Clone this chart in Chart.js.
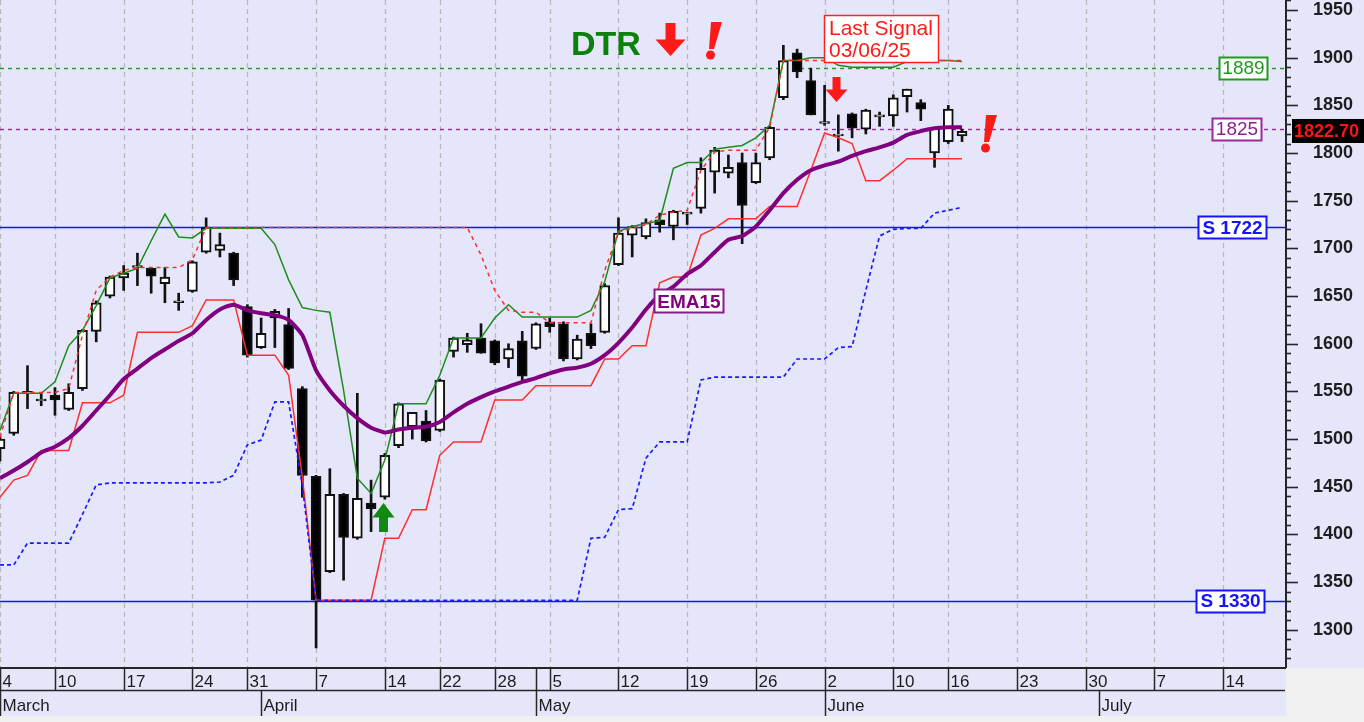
<!DOCTYPE html>
<html>
<head>
<meta charset="utf-8">
<title>DTR</title>
<script src="https://cdn.jsdelivr.net/npm/chart.js@4.4.1/dist/chart.umd.min.js"></script>
<style>
    html, body { margin: 0; padding: 0; background: #f0f0f0; }
    canvas { display: block; }
</style>
</head>
<body>
<canvas id="grafico" width="1364" height="722"></canvas>
<script>
// Daily sessions, 4 March -> 17 June (index 0 = 4 March)
const opens  = [1490, 1506, 1548, 1540, 1546, 1531, 1553, 1613, 1650, 1669, 1680, 1679, 1663, 1643, 1655, 1696, 1698, 1695, 1639, 1596,
                1627, 1620, 1553, 1461, 1361, 1442, 1396, 1433, 1439, 1493, 1513, 1519, 1509, 1592, 1599, 1606, 1603, 1584, 1603, 1595,
                1623, 1621, 1584, 1611, 1612, 1683, 1714, 1712, 1730, 1723, 1736, 1742, 1780, 1779, 1790, 1769, 1795, 1858, 1905, 1876,
                1831, 1818, 1841, 1825, 1838, 1839, 1859, 1853, 1800, 1812, 1818];
const highs  = [1503, 1550, 1577, 1548, 1554, 1558, 1615, 1645, 1671, 1682, 1695, 1680, 1680, 1653, 1687, 1732, 1716, 1696, 1641, 1627,
                1636, 1637, 1555, 1462, 1469, 1443, 1548, 1457, 1485, 1538, 1528, 1530, 1563, 1607, 1611, 1621, 1604, 1600, 1613, 1622,
                1627, 1623, 1609, 1621, 1663, 1732, 1724, 1731, 1737, 1740, 1738, 1795, 1806, 1798, 1800, 1800, 1828, 1913, 1909, 1889,
                1871, 1840, 1842, 1846, 1843, 1861, 1867, 1856, 1827, 1850, 1825];
const lows   = [1477, 1504, 1532, 1535, 1525, 1530, 1551, 1602, 1648, 1656, 1661, 1653, 1643, 1635, 1654, 1695, 1691, 1661, 1586, 1595,
                1596, 1573, 1439, 1281, 1360, 1352, 1395, 1403, 1437, 1491, 1500, 1497, 1508, 1586, 1591, 1590, 1578, 1575, 1562, 1594,
                1612, 1582, 1583, 1595, 1611, 1682, 1691, 1710, 1717, 1709, 1725, 1737, 1758, 1774, 1705, 1768, 1793, 1856, 1879, 1840,
                1829, 1802, 1816, 1820, 1828, 1828, 1843, 1834, 1785, 1810, 1812];
const closes = [1500, 1549, 1550, 1542, 1541, 1549, 1614, 1643, 1670, 1674, 1682, 1671, 1670, 1645, 1686, 1722, 1704, 1667, 1588, 1611,
                1634, 1574, 1462, 1331, 1442, 1397, 1438, 1427, 1483, 1537, 1528, 1498, 1562, 1606, 1604, 1590, 1580, 1595, 1566, 1621,
                1618, 1584, 1605, 1598, 1661, 1716, 1723, 1727, 1725, 1739, 1738, 1784, 1803, 1785, 1745, 1790, 1827, 1897, 1885, 1840,
                1833, 1820, 1826, 1845, 1840, 1858, 1867, 1846, 1826, 1846, 1822.70];

const ema15 = [1459, 1467, 1476, 1486, 1492, 1501, 1514, 1530, 1546, 1563, 1574, 1585, 1594, 1603, 1611, 1625, 1636, 1641, 1635, 1632,
               1630, 1625, 1609, 1572, 1551, 1535, 1522, 1512, 1507, 1510, 1512, 1513, 1518, 1528, 1537, 1544, 1550, 1555, 1560, 1564,
               1569, 1573, 1575, 1579, 1588, 1601, 1617, 1636, 1651, 1660, 1673, 1682, 1696, 1709, 1713, 1723, 1740, 1758, 1772, 1782,
               1787, 1791, 1797, 1802, 1806, 1811, 1819, 1823, 1826, 1827, 1827];
// green line
const upperBand = [1509, 1548, 1548, 1548, 1560, 1598, 1614, 1640, 1669, 1674, 1679, 1708, 1736, 1712, 1711, 1721, 1721, 1721, 1721, 1721,
                   1704, 1667, 1638, 1635, 1633, 1551, 1459, 1443, 1478, 1537, 1537, 1537, 1567, 1606, 1606, 1606, 1627, 1641, 1628, 1628,
                   1628, 1628, 1628, 1635, 1665, 1718, 1723, 1726, 1729, 1784, 1790, 1790, 1804, 1806, 1808, 1816, 1829, 1897, 1897, 1900,
                   1900, 1892, 1890, 1890, 1890, 1890, 1896, 1897, 1897, 1897, 1896];
// red solid line
const lowerStop = [1439, 1457, 1462, 1488, 1488, 1488, 1538, 1538, 1538, 1546, 1612, 1612, 1612, 1612, 1619, 1646, 1646, 1646, 1588, 1588,
                   1588, 1567, 1460, 1331, 1331, 1331, 1331, 1331, 1396, 1396, 1426, 1426, 1483, 1497, 1497, 1497, 1541, 1541, 1541, 1556,
                   1556, 1556, 1556, 1556, 1584, 1584, 1598, 1598, 1664, 1670, 1670, 1714, 1721, 1731, 1731, 1731, 1744, 1744, 1744, 1782,
                   1821, 1816, 1810, 1771, 1771, 1782, 1794, 1794, 1794, 1794, 1794];
// red dashed line
const upperStop = [1502, 1549, 1549, 1549, 1549, 1553, 1609, 1656, 1670, 1677, 1680, 1680, 1680, 1680, 1688, 1722, 1722, 1722, 1722, 1722,
                   1722, 1722, 1722, 1722, 1722, 1722, 1722, 1722, 1722, 1722, 1722, 1722, 1722, 1722, 1722, 1693, 1656, 1635, 1633, 1633,
                   1622, 1622, 1622, 1622, 1677, 1717, 1721, 1725, 1735, 1738, 1740, 1782, 1801, 1803, 1803, 1803, 1827, 1897, 1897, 1897,
                   1897, 1897, 1897, 1897, 1897, 1897, 1897, 1897, 1897, 1897, 1897];
// blue dotted line
const lowerBand = [1368, 1368, 1391, 1391, 1391, 1391, 1421, 1452, 1454, 1454, 1454, 1454, 1454, 1454, 1454, 1454, 1455, 1462, 1494, 1499,
                   1539, 1539, 1451, 1331, 1331, 1331, 1331, 1331, 1331, 1331, 1331, 1331, 1331, 1331, 1331, 1331, 1331, 1331, 1331, 1331,
                   1331, 1331, 1331, 1396, 1397, 1426, 1427, 1480, 1497, 1497, 1497, 1562, 1565, 1565, 1565, 1565, 1565, 1565, 1584, 1584,
                   1584, 1596, 1597, 1656, 1713, 1720, 1721, 1721, 1737, 1740, 1743];

const levels = [1889, 1825, 1722, 1330];
const levelLabels = ['1889', '1825', 'S 1722', 'S 1330'];

const weekStarts = [0, 4, 9, 14, 18, 23, 28, 32, 36, 39, 40, 45, 50, 55, 60, 65, 69, 74, 79, 84, 89];
const weekLabels = ['4', '10', '17', '24', '31', '7', '14', '22', '28', '', '5', '12', '19', '26', '2', '10', '16', '23', '30', '7', '14'];
const monthStarts = [0, 19, 39, 60, 80];
const monthLabels = ['March', 'April', 'May', 'June', 'July'];

const LAST_SLOT = 93.5;
const FONT = "'Liberation Sans', Arial, sans-serif";

const sessions = opens.map((_, i) => i);
const toPoints = arr => arr.map((v, i) => ({ x: i, y: v }));

// look of the level lines / boxes
const levelStyle = [
    { color: '#1f9a1f', text: '#1f9a1f', dash: [4, 4], boxX: 1219, boxW: 49, bold: false },
    { color: '#9a2a9a', text: '#8e1f8e', dash: [4, 4], boxX: 1212, boxW: 50, bold: false },
    { color: '#1414ff', text: '#1414ff', dash: [], boxX: 1198, boxW: 69, bold: true },
    { color: '#1414ff', text: '#1414ff', dash: [], boxX: 1196, boxW: 69, bold: true }
];

function seg(c, x1, y1, x2, y2) {
    c.beginPath();
    c.moveTo(x1, y1);
    c.lineTo(x2, y2);
    c.stroke();
}

function arrow(c, cx, tip, tail, w, shaft, color) {
    const dir = tip > tail ? 1 : -1;
    const base = tip - dir * Math.abs(tip - tail) * 0.5;
    c.beginPath();
    c.moveTo(cx - shaft / 2, tail);
    c.lineTo(cx + shaft / 2, tail);
    c.lineTo(cx + shaft / 2, base);
    c.lineTo(cx + w / 2, base);
    c.lineTo(cx, tip);
    c.lineTo(cx - w / 2, base);
    c.lineTo(cx - shaft / 2, base);
    c.closePath();
    c.fillStyle = color;
    c.fill();
}

function bang(c, x, top, color) {
    c.fillStyle = color;
    c.beginPath();
    c.moveTo(x + 6, top);
    c.lineTo(x + 17, top);
    c.lineTo(x + 9, top + 27);
    c.lineTo(x + 4, top + 27);
    c.closePath();
    c.fill();
    c.beginPath();
    c.arc(x + 5.5, top + 33, 4.5, 0, Math.PI * 2);
    c.fill();
}

function labelBox(c, x, y, w, h, border, fill, lw) {
    c.fillStyle = fill;
    c.fillRect(x, y, w, h);
    c.strokeStyle = border;
    c.lineWidth = lw;
    c.strokeRect(x + 0.5, y + 0.5, w - 1, h - 1);
}

const decor = {
    id: 'decor',
    beforeDraw(chart) {
        const c = chart.ctx;
        c.save();
        c.fillStyle = '#e6e6fa';
        c.fillRect(0, 0, chart.width, chart.height);
        c.fillStyle = '#f0f0f0';
        c.fillRect(0, 716, chart.width, chart.height - 716);
        c.fillRect(1286, 668, chart.width - 1286, chart.height - 668);
        c.restore();
    },
    beforeDatasetsDraw(chart) {
        const c = chart.ctx, xs = chart.scales.x, ys = chart.scales.y, a = chart.chartArea;
        c.save();
        c.strokeStyle = '#b8b8b8';
        c.lineWidth = 1.3;
        c.setLineDash([5, 4]);
        weekStarts.forEach((d, i) => {
            if (!weekLabels[i]) return;
            const px = Math.round(xs.getPixelForValue(d)) + 0.5;
            seg(c, px, a.top, px, a.bottom);
        });
        levels.forEach((v, i) => {
            const st = levelStyle[i];
            const py = Math.round(ys.getPixelForValue(v)) + 0.5;
            c.strokeStyle = st.color;
            c.lineWidth = st.dash.length ? 1.4 : 1.7;
            c.setLineDash(st.dash);
            seg(c, a.left, py, a.right, py);
        });
        c.restore();
    },
    afterDraw(chart) {
        const c = chart.ctx, xs = chart.scales.x, ys = chart.scales.y, a = chart.chartArea;
        c.save();

        // level boxes
        c.textBaseline = 'middle';
        levels.forEach((v, i) => {
            const st = levelStyle[i];
            const py = ys.getPixelForValue(v);
            labelBox(c, st.boxX, Math.round(py) - 11, st.boxW, 23, st.color, '#ffffff', 2);
            c.fillStyle = st.text;
            c.font = (st.bold ? 'bold ' : '') + '19px ' + FONT;
            c.textAlign = 'center';
            c.fillText(levelLabels[i], st.boxX + st.boxW / 2, py + 1);
        });

        // right axis line and ticks
        c.strokeStyle = '#262626';
        c.lineWidth = 2;
        seg(c, a.right + 1, 0, a.right + 1, a.bottom + 1);
        c.lineWidth = 1.6;
        for (let v = 1270; v <= 1960; v += 10) {
            const py = Math.round(ys.getPixelForValue(v)) + 0.5;
            seg(c, a.right + 1, py, a.right + (v % 50 === 0 ? 13 : 6), py);
        }

        // last price
        const last = closes[closes.length - 1];
        const lp = ys.getPixelForValue(last);
        c.fillStyle = '#000000';
        c.fillRect(a.right + 7, Math.round(lp) - 12, chart.width - a.right - 7, 24);
        c.fillStyle = '#ff1414';
        c.font = 'bold 18px ' + FONT;
        c.textAlign = 'left';
        c.fillText(last.toFixed(2), a.right + 9, lp + 1);

        // date rows
        const bottom = a.bottom + 1;
        c.strokeStyle = '#262626';
        c.lineWidth = 2;
        seg(c, 0, bottom, a.right + 1, bottom);
        c.lineWidth = 1.5;
        seg(c, 0, 690.5, a.right, 690.5);
        c.fillStyle = '#1c1c1c';
        c.font = '17px ' + FONT;
        c.textBaseline = 'alphabetic';
        weekStarts.forEach((d, i) => {
            const px = Math.round(xs.getPixelForValue(d)) + 0.5;
            seg(c, px, bottom, px, 690);
            c.fillText(weekLabels[i], px + 2, 687);
        });
        monthStarts.forEach((d, i) => {
            const px = Math.round(xs.getPixelForValue(d)) + 0.5;
            seg(c, px, 690, px, 716);
            c.fillText(monthLabels[i], px + 2, 711);
        });

        // signal annotations
        c.fillStyle = '#0b800b';
        c.font = 'bold 34px ' + FONT;
        c.fillText('DTR', 571, 55);
        arrow(c, 670.5, 56, 23, 30, 10, '#ff1a1a');
        bang(c, 705, 22, '#ff1a1a');

        labelBox(c, 824, 15, 115, 48, '#ff2020', '#ffffff', 1.5);
        c.fillStyle = '#ff1a1a';
        c.font = '21px ' + FONT;
        c.fillText('Last Signal', 829, 35);
        c.fillText('03/06/25', 829, 57);
        arrow(c, 836.5, 102, 77, 22, 8, '#ff1a1a');

        arrow(c, 383.5, 503, 532, 22, 9, '#128a12');

        labelBox(c, 654, 289, 70, 24, '#8a1a8a', '#ffffff', 2);
        c.fillStyle = '#800080';
        c.font = 'bold 19px ' + FONT;
        c.textAlign = 'center';
        c.fillText('EMA15', 689, 308);

        bang(c, 980, 115, '#ff1a1a');
        c.restore();
    }
};

new Chart(document.getElementById('grafico'), {
    type: 'line',
    data: {
        datasets: [
            {
                type: 'bar',
                data: sessions.map(i => ({ x: i, y: [lows[i], highs[i]] })),
                backgroundColor: '#111111',
                barThickness: 2,
                grouped: false,
                order: 11
            },
            {
                type: 'bar',
                data: sessions.map(i => ({ x: i, y: [opens[i], closes[i]] })),
                backgroundColor: sessions.map(i => closes[i] >= opens[i] ? '#ffffff' : '#000000'),
                borderColor: '#111111',
                borderWidth: 2,
                borderSkipped: false,
                barThickness: 10,
                grouped: false,
                order: 10
            },
            {
                data: toPoints(lowerStop),
                borderColor: '#ff2e2e',
                borderWidth: 1.5,
                pointRadius: 0,
                order: 6
            },
            {
                data: toPoints(lowerBand),
                borderColor: '#1a1aff',
                borderWidth: 1.7,
                borderDash: [4, 3],
                pointRadius: 0,
                order: 5
            },
            {
                data: toPoints(upperBand),
                borderColor: '#1e8c1e',
                borderWidth: 1.5,
                pointRadius: 0,
                order: 4
            },
            {
                data: toPoints(upperStop),
                borderColor: '#ff2e2e',
                borderWidth: 1.5,
                borderDash: [4, 4],
                pointRadius: 0,
                order: 3
            },
            {
                data: toPoints(ema15),
                borderColor: '#800080',
                borderWidth: 4,
                pointRadius: 0,
                tension: 0.2,
                order: 1
            }
        ]
    },
    options: {
        responsive: false,
        animation: false,
        events: [],
        layout: { padding: { left: 0, top: 0, right: 0, bottom: 55 } },
        plugins: {
            legend: { display: false },
            tooltip: { enabled: false }
        },
        scales: {
            x: {
                type: 'linear',
                min: 0,
                max: LAST_SLOT,
                offset: false,
                display: false
            },
            y: {
                position: 'right',
                min: 1261,
                max: 1960.5,
                grid: { display: false, drawTicks: false },
                border: { display: false },
                ticks: {
                    stepSize: 10,
                    autoSkip: false,
                    padding: 28,
                    color: '#1e1e1e',
                    font: { family: FONT, size: 18, weight: 'bold' },
                    callback: v => (v % 50 === 0 ? v : '')
                },
                afterFit(s) {
                    s.width = 79;
                    s.paddingTop = 0;
                    s.paddingBottom = 0;
                }
            }
        }
    },
    plugins: [decor]
});
</script>
</body>
</html>
